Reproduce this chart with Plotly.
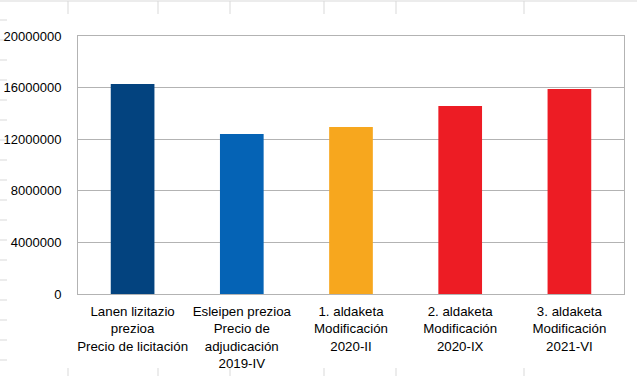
import plotly.graph_objects as go

categories = [
    "Lanen lizitazio<br>prezioa<br>Precio de licitación",
    "Esleipen prezioa<br>Precio de<br>adjudicación<br>2019-IV",
    "1. aldaketa<br>Modificación<br>2020-II",
    "2. aldaketa<br>Modificación<br>2020-IX",
    "3. aldaketa<br>Modificación<br>2021-VI",
]
values = [16280000, 12400000, 12950000, 14570000, 15900000]
colors = ["#03437f", "#0563b5", "#f7a71e", "#ed1c24", "#ed1c24"]
y_ticks = [0, 4000000, 8000000, 12000000, 16000000, 20000000]

fig = go.Figure(go.Bar(x=categories, y=values, marker=dict(color=colors, line=dict(width=0)), width=0.4))

grid_col = "#b3b3b3"
fig.update_layout(
    width=637, height=376,
    margin=dict(l=78, r=13, t=36, b=82, autoexpand=False),
    paper_bgcolor="white", plot_bgcolor="white",
    font=dict(family="Liberation Sans, Arial, sans-serif", size=13, color="#000000"),
    showlegend=False,
    xaxis=dict(showline=True, linecolor=grid_col, linewidth=1, mirror=True, automargin=False,
               ticks="", tickfont=dict(size=13.3), ticklabelstandoff=5),
    yaxis=dict(range=[0, 20000000], tickvals=y_ticks, tickformat="d", automargin=False,
               showgrid=True, gridcolor=grid_col, gridwidth=1,
               showline=True, linecolor=grid_col, linewidth=1, mirror=True,
               ticks="", ticklabelstandoff=13, tickfont=dict(size=13), zeroline=False),
)

# faint spreadsheet cell lines in the background
faint = "#d9d9d9"
fig.add_shape(type="line", xref="paper", yref="paper", x0=-78/546, x1=(637-78)/546,
              y0=1 + 35/258, y1=1 + 35/258, line=dict(color=faint, width=1), layer="below")
for px in [68, 158, 230, 324, 396, 524]:
    xp = (px - 78) / 546
    fig.add_shape(type="line", xref="paper", yref="paper", x0=xp, x1=xp,
                  y0=1 + 22/258, y1=1 + 35/258, line=dict(color=faint, width=1), layer="below")
    fig.add_shape(type="line", xref="paper", yref="paper", x0=xp, x1=xp,
                  y0=-82/258, y1=-74/258, line=dict(color=faint, width=1), layer="below")
for py in range(20, 376, 20):
    yp = (294 - py) / 258
    fig.add_shape(type="line", xref="paper", yref="paper", x0=-78/546, x1=-71/546,
                  y0=yp, y1=yp, line=dict(color=faint, width=1), layer="below")

fig.write_html("out.html", config={"displayModeBar": False},
               post_script="document.body.style.margin='0';document.body.style.overflow='hidden';")
